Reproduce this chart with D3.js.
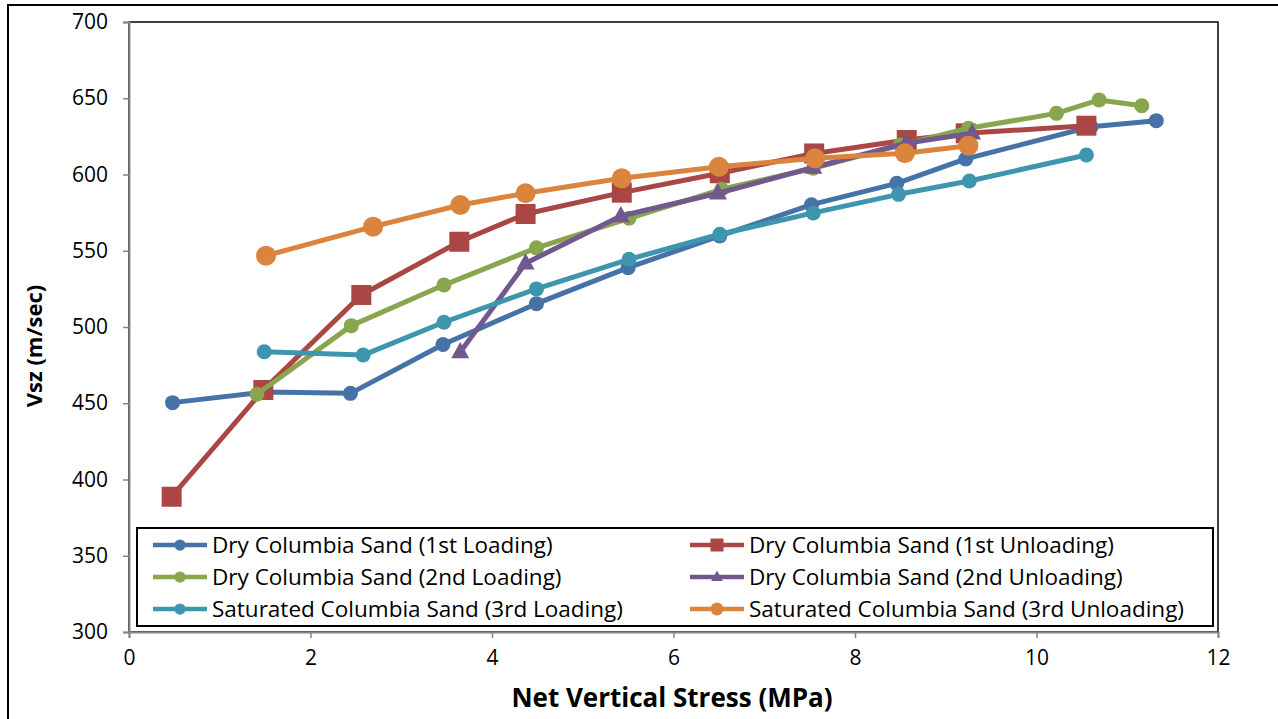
<!DOCTYPE html>
<html>
<head>
<meta charset="utf-8">
<script src="https://cdn.jsdelivr.net/npm/d3@7"></script>
<style>
  html, body { margin: 0; padding: 0; background: #fff; }
  svg { display: block; font-family: "Open Sans", Lato, sans-serif; }
</style>
</head>
<body>
<svg id="chart" width="1278" height="719"></svg>
<script>
// Net vertical stress (MPa) and shear wave velocity Vsz (m/sec) per test stage
const dryLoad1X = [0.48, 1.49, 2.44, 3.46, 4.49, 5.50, 6.51, 7.52, 8.46, 9.22, 10.60, 11.32];
const dryLoad1Y = [450.4, 457.4, 456.5, 488.5, 515.3, 538.9, 559.7, 580.2, 594.2, 610.2, 631.3, 635.3];

const dryUnload1X = [0.47, 1.48, 2.56, 3.64, 4.37, 5.43, 6.51, 7.55, 8.57, 9.22, 10.55];
const dryUnload1Y = [388.7, 458.7, 521.0, 555.9, 574.1, 588.1, 600.8, 613.8, 622.6, 627.0, 632.0];

const dryLoad2X = [1.41, 2.45, 3.47, 4.49, 5.51, 6.53, 7.54, 8.50, 9.25, 10.22, 10.69, 11.16];
const dryLoad2Y = [455.9, 500.9, 527.5, 551.9, 571.3, 590.3, 604.1, 619.3, 630.3, 640.1, 648.9, 645.1];

const dryUnload2X = [3.65, 4.37, 5.42, 6.49, 7.54, 8.56, 9.29];
const dryUnload2Y = [483.6, 541.8, 572.8, 587.7, 604.6, 620.5, 627.0];

const satLoad3X = [1.49, 2.58, 3.47, 4.49, 5.51, 6.51, 7.54, 8.48, 9.26, 10.55];
const satLoad3Y = [483.8, 481.6, 503.1, 525.0, 544.4, 560.8, 574.8, 587.0, 595.7, 612.8];

const satUnload3X = [1.51, 2.69, 3.65, 4.37, 5.43, 6.50, 7.56, 8.55, 9.25];
const satUnload3Y = [546.8, 565.8, 580.0, 587.7, 597.5, 605.1, 610.6, 613.9, 618.9];

const seriesNames = [
  "Dry Columbia Sand (1st Loading)",
  "Dry Columbia Sand (1st Unloading)",
  "Dry Columbia Sand (2nd Loading)",
  "Dry Columbia Sand (2nd Unloading)",
  "Saturated Columbia Sand (3rd Loading)",
  "Saturated Columbia Sand (3rd Unloading)"
];

const xTicks = [0, 2, 4, 6, 8, 10, 12];
const yTicks = [300, 350, 400, 450, 500, 550, 600, 650, 700];

const xTitle = "Net Vertical Stress (MPa)";
const yTitle = "Vsz (m/sec)";

// Styling per series
const styles = [
  { color: "#4572A7", shape: "circle", size: 7.5 },
  { color: "#AA4643", shape: "square", size: 10 },
  { color: "#89A54E", shape: "circle", size: 7.5 },
  { color: "#71588F", shape: "triangle", size: 9 },
  { color: "#3D96AE", shape: "circle", size: 7.5 },
  { color: "#DB843D", shape: "circle", size: 10 }
];

const seriesX = [dryLoad1X, dryUnload1X, dryLoad2X, dryUnload2X, satLoad3X, satUnload3X];
const seriesY = [dryLoad1Y, dryUnload1Y, dryLoad2Y, dryUnload2Y, satLoad3Y, satUnload3Y];
const series = seriesNames.map((name, i) => ({
  name,
  style: styles[i],
  points: seriesX[i].map((x, j) => ({ x, y: seriesY[i][j] }))
}));

const svg = d3.select("#chart");
const plot = { left: 129, right: 1218, top: 22, bottom: 632 };

const x = d3.scaleLinear().domain([0, 12]).range([plot.left, plot.right]);
const y = d3.scaleLinear().domain([300, 700]).range([plot.bottom, plot.top]);

// Outer chart frame
svg.append("rect")
  .attr("x", 8).attr("y", 5).attr("width", 1290).attr("height", 730)
  .attr("fill", "#fff").attr("stroke", "#000").attr("stroke-width", 2);

// Plot area frame
svg.append("rect")
  .attr("x", plot.left).attr("y", plot.top)
  .attr("width", plot.right - plot.left).attr("height", plot.bottom - plot.top)
  .attr("fill", "#fff").attr("stroke", "#000").attr("stroke-width", 1.5);

// Axes
const xAxis = svg.append("g")
  .attr("transform", `translate(0,${plot.bottom})`)
  .call(d3.axisBottom(x).tickValues(xTicks).tickSize(6).tickPadding(12).tickFormat(d3.format("d")));
const yAxis = svg.append("g")
  .attr("transform", `translate(${plot.left},0)`)
  .call(d3.axisLeft(y).tickValues(yTicks).tickSize(6).tickPadding(15).tickFormat(d3.format("d")));

[xAxis, yAxis].forEach(g => {
  g.select(".domain").attr("stroke", "#868686").attr("stroke-width", 2);
  g.selectAll(".tick line").attr("stroke", "#868686").attr("stroke-width", 1.5);
  g.selectAll(".tick text").attr("fill", "#000").style("font-size", "21px")
    .style("font-family", "'Open Sans', Lato, sans-serif");
});
xAxis.selectAll(".tick text").attr("dy", "0.71em");

// Axis titles
svg.append("text")
  .attr("x", 672).attr("y", 707)
  .attr("text-anchor", "middle")
  .style("font-size", "26px").style("font-weight", "bold")
  .text(xTitle);

svg.append("text")
  .attr("transform", `translate(42,346) rotate(-90)`)
  .attr("text-anchor", "middle")
  .style("font-size", "22px").style("font-weight", "bold")
  .text(yTitle);

// Marker drawing helper
function drawMarker(sel, style, scale) {
  const s = style.size * scale;
  if (style.shape === "circle") {
    sel.append("circle").attr("r", s).attr("fill", style.color);
  } else if (style.shape === "square") {
    sel.append("rect").attr("x", -s).attr("y", -s).attr("width", 2 * s).attr("height", 2 * s)
      .attr("fill", style.color);
  } else {
    const h = s * 1.8;
    sel.append("path")
      .attr("d", `M0,${-h * 0.62} L${s},${h * 0.38} L${-s},${h * 0.38} Z`)
      .attr("fill", style.color);
  }
}

const line = d3.line().x(d => x(d.x)).y(d => y(d.y));

// Series lines and markers
const gSeries = svg.append("g");
series.forEach(s => {
  const g = gSeries.append("g");
  g.append("path")
    .datum(s.points)
    .attr("d", line)
    .attr("fill", "none")
    .attr("stroke", s.style.color)
    .attr("stroke-width", 5)
    .attr("stroke-linejoin", "round");
  g.selectAll("g.pt").data(s.points).join("g")
    .attr("class", "pt")
    .attr("transform", d => `translate(${x(d.x)},${y(d.y)})`)
    .each(function () { drawMarker(d3.select(this), s.style, 1); });
});

// Legend
const legend = svg.append("g");
legend.append("rect")
  .attr("x", 137).attr("y", 528).attr("width", 1076).attr("height", 98)
  .attr("fill", "#fff").attr("stroke", "#000").attr("stroke-width", 2);

const colX = [153, 690];
const rowY = [545, 577, 609];
series.forEach((s, i) => {
  const cx = colX[i % 2];
  const cy = rowY[Math.floor(i / 2)];
  const item = legend.append("g").attr("transform", `translate(${cx},${cy})`);
  item.append("line")
    .attr("x1", 0).attr("x2", 54).attr("y1", 0).attr("y2", 0)
    .attr("stroke", s.style.color).attr("stroke-width", 4.5);
  const m = item.append("g").attr("transform", "translate(27,0)");
  drawMarker(m, s.style, s.style.size > 8 ? 0.65 : 0.75);
  item.append("text")
    .attr("x", 59).attr("y", 0).attr("dy", "0.35em")
    .style("font-size", "22.5px")
    .text(s.name);
});
</script>
</body>
</html>
